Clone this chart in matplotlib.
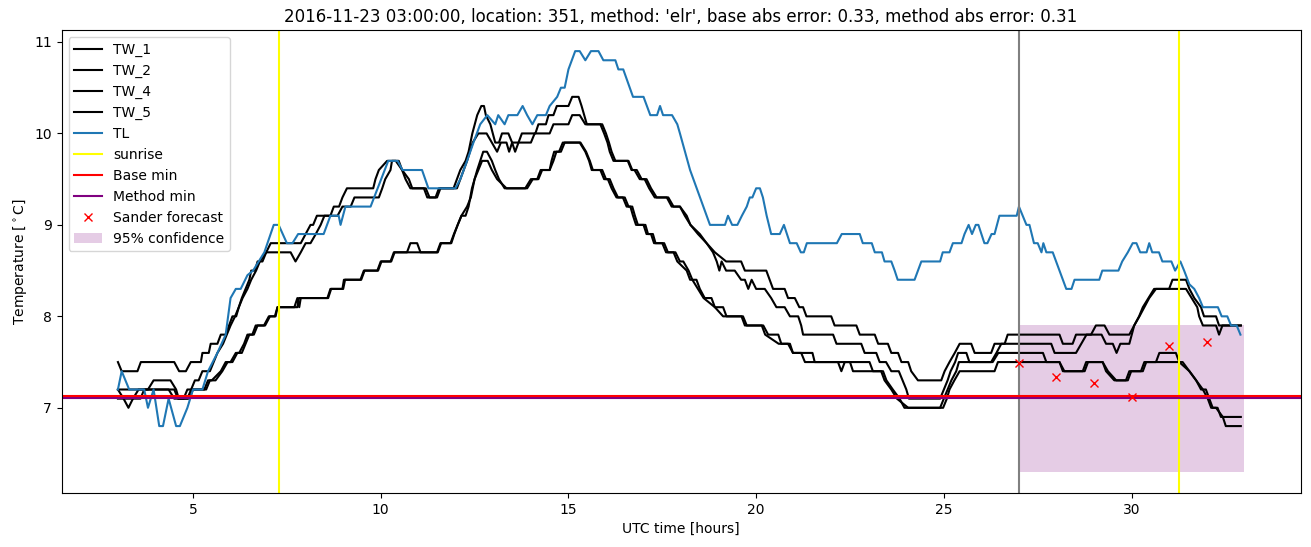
#!/usr/bin/env python

import matplotlib
matplotlib.use("Agg")
import matplotlib.pyplot as plt

title = ("2016-11-23 03:00:00, location: 351, method: 'elr', "
         "base abs error: 0.33, method abs error: 0.31")

# breakpoints (hours, degC)
tw1_t = [3.0, 3.1, 3.52, 3.61, 4.5, 4.63, 4.81, 4.94, 5.21, 5.25, 5.42, 5.47, 5.65, 5.74,
         5.87, 5.96, 6.05, 6.15, 6.22, 6.3, 6.4, 6.5, 6.55, 6.65, 6.72, 6.85, 6.95, 7.07,
         7.87, 8.0, 8.13, 8.2, 8.3, 8.66, 8.75, 8.89, 8.98, 9.1, 9.8, 9.86, 9.95, 10.17,
         10.4, 10.57, 10.75, 10.84, 11.15, 11.24, 11.46, 11.55, 11.94, 12.03, 12.12, 12.26,
         12.34, 12.44, 12.57, 12.68, 12.75, 12.8, 12.92, 13.05, 13.15, 13.23, 13.4, 13.5,
         13.58, 13.67, 13.76, 14.12, 14.2, 14.4, 14.47, 14.6, 14.69, 15.0, 15.1, 15.27,
         15.35, 15.42, 15.49, 15.85, 15.95, 16.04, 16.1, 16.2, 16.58, 16.68, 16.76, 16.9,
         17.03, 17.15, 17.3, 17.62, 17.75, 17.97, 18.15, 18.25, 18.45, 18.68, 18.9, 19.2,
         19.6, 19.7, 20.27, 20.36, 20.45, 20.76, 20.85, 21.03, 21.15, 21.25, 21.34, 22.0,
         22.09, 22.67, 22.76, 23.16, 23.25, 23.51, 23.6, 23.78, 23.87, 24.05, 24.13, 24.31,
         24.93, 25.02, 25.15, 25.29, 25.42, 25.73, 25.82, 26.26, 26.35, 26.62, 26.7, 28.08,
         28.17, 28.43, 28.52, 28.92, 29.05, 29.28, 29.41, 29.94, 30.07, 30.21, 30.34,
         30.47, 30.65, 31.0, 31.09, 31.45, 31.54, 31.67, 31.85, 31.93, 32.25, 32.33, 32.91]
tw1_v = [7.5, 7.4, 7.4, 7.5, 7.5, 7.4, 7.4, 7.5, 7.5, 7.6, 7.6, 7.7, 7.7, 7.8,
         7.8, 7.9, 8.0, 8.0, 8.1, 8.2, 8.3, 8.4, 8.5, 8.5, 8.6, 8.6, 8.7, 8.8,
         8.8, 8.9, 9.0, 9.0, 9.1, 9.1, 9.2, 9.2, 9.3, 9.4, 9.4, 9.5, 9.6, 9.7,
         9.7, 9.6, 9.5, 9.4, 9.4, 9.3, 9.3, 9.4, 9.4, 9.5, 9.6, 9.7,
         9.8, 10.0, 10.2, 10.3, 10.3, 10.2, 10.1, 9.9, 9.9, 10.0, 10.0, 9.9,
         9.8, 9.9, 10.0, 10.0, 10.1, 10.1, 10.2, 10.2, 10.3, 10.3, 10.4, 10.4,
         10.3, 10.2, 10.1, 10.1, 10.0, 9.9, 9.8, 9.7, 9.7, 9.6, 9.6, 9.5,
         9.5, 9.4, 9.3, 9.3, 9.2, 9.2, 9.1, 9.0, 8.9, 8.8, 8.7, 8.6,
         8.6, 8.5, 8.5, 8.4, 8.3, 8.3, 8.2, 8.2, 8.1, 8.1, 8.0, 8.0,
         7.9, 7.9, 7.8, 7.8, 7.7, 7.7, 7.6, 7.6, 7.5, 7.5, 7.4, 7.3,
         7.3, 7.4, 7.5, 7.6, 7.7, 7.7, 7.6, 7.6, 7.7, 7.7, 7.8, 7.8,
         7.7, 7.7, 7.8, 7.8, 7.9, 7.9, 7.8, 7.8, 7.9, 8.0, 8.1,
         8.2, 8.3, 8.3, 8.4, 8.4, 8.3, 8.2, 8.1, 8.0, 8.0, 7.9, 7.9]

tw2_t = [3.0, 3.8, 3.95, 4.4, 4.55, 4.62, 4.85, 4.95, 5.05, 5.15, 5.25, 5.45, 5.55, 5.65,
         5.8, 5.9, 6.0, 6.12, 6.22, 6.32, 6.45, 6.55, 6.68, 6.78, 6.95, 7.6, 7.73, 7.87,
         8.0, 8.13, 8.27, 8.4, 8.5, 8.85, 8.98, 9.2, 9.3, 9.95, 10.04, 10.12, 10.26, 10.3,
         10.48, 10.57, 10.66, 10.79, 11.2, 11.3, 11.5, 11.59, 12.03, 12.12, 12.3, 12.45,
         12.6, 12.82, 12.96, 13.1, 13.2, 13.35, 13.42, 13.5, 14.0, 14.1, 14.5, 14.6, 15.0,
         15.1, 15.3, 15.45, 15.9, 16.0, 16.08, 16.15, 16.25, 16.6, 16.7, 16.82, 16.95,
         17.08, 17.2, 17.35, 17.66, 17.8, 17.97, 18.1, 18.25, 18.5, 18.68, 18.85, 18.95,
         19.02, 19.08, 19.2, 19.43, 19.6, 19.7, 19.79, 19.88, 20.0, 20.23, 20.4, 20.54,
         20.76, 20.9, 21.12, 21.2, 21.25, 22.05, 22.14, 22.8, 22.89, 23.2, 23.29, 23.46,
         23.6, 23.8, 23.9, 24.0, 24.07, 24.9, 25.0, 25.1, 25.18, 25.3, 25.38, 25.6, 25.68,
         26.26, 26.4, 26.53, 27.86, 27.95, 28.52, 28.66, 28.8, 29.2, 29.32, 29.5, 29.6,
         29.7, 29.94, 30.07, 30.2, 30.3, 30.45, 30.6, 31.45, 31.6, 31.75, 31.8, 31.9,
         32.25, 32.33, 32.42, 32.91]
tw2_v = [7.2, 7.2, 7.3, 7.3, 7.2, 7.1, 7.1, 7.2, 7.3, 7.3, 7.4, 7.4, 7.5, 7.6,
         7.7, 7.8, 7.9, 8.0, 8.1, 8.2, 8.3, 8.4, 8.5, 8.6, 8.7, 8.7, 8.6, 8.7,
         8.8, 8.8, 8.9, 9.0, 9.1, 9.1, 9.2, 9.2, 9.3, 9.3, 9.4, 9.5, 9.6, 9.7,
         9.7, 9.6, 9.5, 9.4, 9.4, 9.3, 9.3, 9.4, 9.4, 9.5, 9.7, 9.9,
         10.0, 10.0, 9.9, 9.8, 9.9, 9.9, 9.8, 9.9, 9.9, 10.0, 10.0, 10.1, 10.1,
         10.2, 10.2, 10.1, 10.1, 10.0, 9.9, 9.8, 9.7, 9.7, 9.6, 9.6, 9.5,
         9.5, 9.4, 9.3, 9.3, 9.2, 9.2, 9.1, 9.0, 8.9, 8.8, 8.7, 8.6,
         8.5, 8.6, 8.5, 8.5, 8.4, 8.4, 8.3, 8.4, 8.3, 8.3, 8.2, 8.1,
         8.1, 8.0, 8.0, 7.9, 7.8, 7.8, 7.7, 7.7, 7.6, 7.6, 7.5, 7.5,
         7.4, 7.4, 7.3, 7.2, 7.1, 7.1, 7.2, 7.3, 7.4, 7.5, 7.6, 7.6, 7.5,
         7.5, 7.6, 7.7, 7.7, 7.6, 7.6, 7.7, 7.8, 7.8, 7.7, 7.7, 7.6,
         7.7, 7.7, 7.9, 8.0, 8.1, 8.2, 8.3, 8.3, 8.2, 8.1, 8.0, 7.9,
         7.9, 7.8, 7.9, 7.9]

tw4_t = [3.0, 3.15, 3.28, 3.4, 3.55, 4.35, 4.5, 4.75, 4.85, 5.3, 5.4, 5.5, 5.74, 5.87,
         6.0, 6.14, 6.23, 6.36, 6.45, 6.58, 6.67, 6.89, 7.02, 7.2, 7.25, 7.78, 7.82, 8.58,
         8.66, 8.98, 9.02, 9.46, 9.55, 9.91, 10.0, 10.26, 10.35, 10.7, 10.79, 10.97, 11.06,
         11.5, 11.59, 11.86, 11.95, 12.05, 12.15, 12.26, 12.34, 12.43, 12.57, 12.65, 12.73,
         12.83, 12.96, 13.05, 13.15, 13.3, 13.85, 14.0, 14.17, 14.26, 14.5, 14.55, 14.62,
         14.75, 14.85, 15.3, 15.45, 15.55, 15.62, 15.85, 15.95, 16.05, 16.15, 16.28, 16.45,
         16.55, 16.65, 16.72, 16.8, 17.0, 17.08, 17.2, 17.28, 17.5, 17.6, 17.8, 17.9, 18.15,
         18.24, 18.41, 18.5, 18.63, 18.81, 18.9, 19.12, 19.21, 19.61, 19.7, 20.19, 20.32,
         20.59, 20.67, 20.9, 20.98, 21.2, 21.3, 22.18, 22.27, 22.36, 23.02, 23.11, 23.38,
         23.47, 23.64, 23.82, 23.95, 24.9, 25.0, 25.1, 25.2, 25.33, 25.4, 26.3, 26.45,
         27.64, 27.73, 28.08, 28.17, 28.75, 28.84, 29.23, 29.32, 29.54, 29.85, 29.94,
         30.25, 30.34, 30.65, 30.74, 31.18, 31.27, 31.36, 31.54, 31.72, 31.85, 31.98,
         32.07, 32.16, 32.29, 32.38, 32.91]
tw4_v = [7.2, 7.1, 7.0, 7.1, 7.2, 7.2, 7.1, 7.1, 7.2, 7.2, 7.3, 7.3, 7.4, 7.5,
         7.5, 7.6, 7.6, 7.7, 7.8, 7.8, 7.9, 7.9, 8.0, 8.0, 8.1, 8.1, 8.2, 8.2,
         8.3, 8.3, 8.4, 8.4, 8.5, 8.5, 8.6, 8.6, 8.7, 8.7, 8.8, 8.8, 8.7,
         8.7, 8.8, 8.8, 8.9, 9.0, 9.1, 9.1, 9.2, 9.4, 9.6, 9.7, 9.8,
         9.8, 9.7, 9.6, 9.5, 9.4, 9.4, 9.5, 9.5, 9.6, 9.6, 9.7, 9.8,
         9.8, 9.9, 9.9, 9.8, 9.7, 9.6, 9.6, 9.5, 9.5, 9.4, 9.3, 9.3,
         9.2, 9.2, 9.1, 9.0, 9.0, 8.9, 8.9, 8.8, 8.8, 8.7, 8.7, 8.6, 8.5,
         8.4, 8.4, 8.3, 8.2, 8.2, 8.1, 8.1, 8.0, 8.0, 7.9, 7.9, 7.8,
         7.8, 7.7, 7.7, 7.6, 7.6, 7.5, 7.5, 7.4, 7.5, 7.5, 7.4, 7.4,
         7.3, 7.2, 7.1, 7.0, 7.0, 7.1, 7.2, 7.3, 7.4, 7.5, 7.5, 7.6,
         7.6, 7.5, 7.5, 7.4, 7.4, 7.5, 7.5, 7.4, 7.3, 7.3, 7.4,
         7.4, 7.5, 7.5, 7.6, 7.6, 7.5, 7.5, 7.4, 7.3, 7.2, 7.2,
         7.1, 7.0, 7.0, 6.9, 6.9]

tw5_t = [3.0, 3.6, 3.7, 4.5, 4.6, 4.9, 5.0, 5.35, 5.45, 5.6, 5.78, 5.92, 6.05, 6.18,
         6.3, 6.4, 6.5, 6.62, 6.72, 6.92, 7.05, 7.18, 7.25, 7.7, 7.78, 7.83, 7.87, 8.6,
         8.68, 9.0, 9.05, 9.48, 9.57, 9.93, 10.02, 10.28, 10.37, 11.52, 11.61, 11.88, 11.96,
         12.05, 12.15, 12.3, 12.4, 12.5, 12.6, 12.7, 12.85, 12.96, 13.1, 13.35, 13.9,
         14.05, 14.2, 14.3, 14.5, 14.6, 14.68, 14.8, 14.9, 15.32, 15.47, 15.57, 15.65,
         15.9, 16.0, 16.1, 16.2, 16.32, 16.5, 16.6, 16.7, 16.77, 16.85, 17.05, 17.12,
         17.25, 17.32, 17.55, 17.65, 17.85, 17.97, 18.06, 18.2, 18.3, 18.45, 18.6, 18.9,
         19.12, 19.65, 19.75, 20.15, 20.24, 20.6, 20.85, 20.98, 21.5, 21.56, 22.5, 22.58,
         23.33, 23.42, 23.6, 23.75, 24.05, 24.98, 25.08, 25.15, 25.28, 25.42, 26.35,
         26.44, 28.08, 28.21, 28.7, 28.79, 29.23, 29.37, 29.59, 29.9, 29.99, 30.3, 30.39,
         31.27, 31.54, 31.72, 31.9, 32.03, 32.12, 32.25, 32.43, 32.51, 32.91]
tw5_v = [7.1, 7.1, 7.2, 7.2, 7.1, 7.1, 7.2, 7.2, 7.3, 7.3, 7.4, 7.5, 7.5, 7.6,
         7.6, 7.7, 7.8, 7.8, 7.9, 7.9, 8.0, 8.0, 8.1, 8.1, 8.2, 8.1, 8.2, 8.2,
         8.3, 8.3, 8.4, 8.4, 8.5, 8.5, 8.6, 8.6, 8.7, 8.7, 8.8, 8.8, 8.9,
         9.0, 9.1, 9.2, 9.3, 9.5, 9.6, 9.7, 9.7, 9.6, 9.5, 9.4, 9.4,
         9.5, 9.5, 9.6, 9.6, 9.7, 9.8, 9.8, 9.9, 9.9, 9.8, 9.7, 9.6,
         9.6, 9.5, 9.5, 9.4, 9.3, 9.3, 9.2, 9.2, 9.1, 9.0, 9.0, 8.9,
         8.9, 8.8, 8.8, 8.7, 8.7, 8.6, 8.6, 8.5, 8.4, 8.3, 8.2, 8.1,
         8.0, 8.0, 7.9, 7.9, 7.8, 7.7, 7.7, 7.6, 7.6, 7.5, 7.5, 7.4,
         7.4, 7.3, 7.2, 7.1, 7.0, 7.0, 7.1, 7.2, 7.3, 7.4, 7.4,
         7.5, 7.5, 7.4, 7.4, 7.5, 7.5, 7.4, 7.3, 7.3, 7.4, 7.4, 7.5,
         7.5, 7.4, 7.3, 7.2, 7.1, 7.0, 7.0, 6.9, 6.8, 6.8]

tl_t = [3.0, 3.1, 3.3, 3.7, 3.8, 3.95, 4.1, 4.2, 4.35, 4.55, 4.65, 4.85, 5.0, 5.25, 5.4,
        5.65, 5.87, 6.0, 6.14, 6.27, 6.45, 6.6, 6.75, 6.9, 7.15, 7.28, 7.5, 7.65, 7.8, 8.48,
        8.66, 8.88, 8.93, 9.06, 9.73, 10.2, 10.45, 10.58, 11.1, 11.27, 11.99, 12.12, 12.3,
        12.47, 12.65, 12.84, 13.05, 13.13, 13.3, 13.4, 13.64, 13.78, 13.9, 14.04, 14.17,
        14.4, 14.5, 14.7, 14.8, 14.9, 15.0, 15.18, 15.3, 15.45, 15.6, 15.8, 15.93, 16.25,
        16.33, 16.46, 16.72, 17.0, 17.18, 17.36, 17.44, 17.52, 17.76, 17.9, 17.97, 18.24,
        18.77, 19.17, 19.25, 19.36, 19.5, 19.62, 19.75, 19.83, 19.9, 20.0, 20.1, 20.18,
        20.28, 20.4, 20.63, 20.74, 20.9, 21.08, 21.19, 21.27, 21.35, 22.15, 22.28, 22.76,
        22.84, 23.08, 23.16, 23.35, 23.42, 23.6, 23.69, 23.77, 24.22, 24.4, 24.9, 24.97,
        25.15, 25.24, 25.47, 25.55, 25.66, 25.75, 25.85, 25.92, 26.08, 26.16, 26.27, 26.35,
        26.48, 26.94, 27.0, 27.1, 27.2, 27.28, 27.4, 27.5, 27.6, 27.65, 27.73, 27.9, 28.26,
        28.4, 28.48, 29.14, 29.22, 29.65, 29.75, 29.9, 30.03, 30.13, 30.23, 30.4, 30.47,
        30.55, 30.73, 30.82, 31.06, 31.16, 31.3, 31.4, 31.54, 31.67, 31.8, 31.9, 32.3,
        32.4, 32.55, 32.65, 32.8, 32.9]
tl_v = [7.2, 7.4, 7.2, 7.2, 7.0, 7.2, 6.8, 6.8, 7.1, 6.8, 6.8, 7.0, 7.2, 7.2, 7.4,
        7.6, 7.8, 8.2, 8.3, 8.3, 8.45, 8.5, 8.6, 8.7, 9.0, 9.0, 8.8, 8.8, 8.9, 8.9,
        9.1, 9.1, 9.0, 9.2, 9.2, 9.7, 9.7, 9.6, 9.6, 9.4, 9.4, 9.5, 9.7,
        9.9, 10.1, 10.2, 10.1, 10.2, 10.1, 10.2, 10.2, 10.3, 10.2, 10.1, 10.2,
        10.2, 10.3, 10.4, 10.5, 10.5, 10.7, 10.9, 10.9, 10.8, 10.9, 10.9, 10.8, 10.8,
        10.7, 10.7, 10.4, 10.4, 10.2, 10.2, 10.3, 10.2, 10.2, 10.1, 10.0, 9.6,
        9.0, 9.0, 9.1, 9.0, 9.0, 9.1, 9.2, 9.3, 9.3, 9.4, 9.4, 9.3,
        9.1, 8.9, 8.9, 9.0, 8.8, 8.8, 8.7, 8.7, 8.8, 8.8, 8.9, 8.9,
        8.8, 8.8, 8.7, 8.7, 8.6, 8.6, 8.5, 8.4, 8.4, 8.6, 8.6, 8.7,
        8.7, 8.8, 8.8, 8.9, 9.0, 8.9, 9.0, 9.0, 8.8, 8.8, 8.9, 8.9,
        9.1, 9.1, 9.2, 9.1, 9.0, 9.0, 8.8, 8.8, 8.7, 8.8, 8.7, 8.7, 8.3,
        8.3, 8.4, 8.4, 8.5, 8.5, 8.6, 8.7, 8.8, 8.8, 8.7, 8.7, 8.8,
        8.7, 8.7, 8.6, 8.6, 8.5, 8.6, 8.5, 8.35, 8.3, 8.2, 8.1, 8.1,
        8.0, 8.0, 7.9, 7.9, 7.8]

sunrise = [7.28, 31.27]
forecast_start = 27.0
base_min = 7.125
method_min = 7.11
sander_t = [27, 28, 29, 30, 31, 32]
sander_v = [7.49, 7.34, 7.27, 7.12, 7.68, 7.72]
conf_t = [27, 33]
conf_lo = 6.3
conf_hi = 7.9


def plot():
    fig, ax = plt.subplots(figsize=(13.11, 5.47), dpi=100)
    fig.subplots_adjust(left=0.047, right=0.992, top=0.945, bottom=0.099)

    ax.plot(tw1_t, tw1_v, 'k', label='TW_1')
    ax.plot(tw2_t, tw2_v, 'k', label='TW_2')
    ax.plot(tw4_t, tw4_v, 'k', label='TW_4')
    ax.plot(tw5_t, tw5_v, 'k', label='TW_5')
    ax.plot(tl_t, tl_v, color='C0', label='TL')
    for i, s in enumerate(sunrise):
        ax.axvline(s, color='yellow', label='sunrise' if i == 0 else None)
    ax.axvline(forecast_start, color='grey')
    ax.axhline(base_min, color='red', zorder=2.1, label='Base min')
    ax.axhline(method_min, color='purple', zorder=2.05, label='Method min')
    ax.plot(sander_t, sander_v, 'rx', zorder=2.2, label='Sander forecast')
    ax.fill_between(conf_t, conf_lo, conf_hi, color='purple', alpha=0.2,
                    lw=0, label='95% confidence')

    ax.set(xlabel='UTC time [hours]', ylabel=r'Temperature [$^\circ$C]', title=title)
    ax.legend(loc='upper left')

    fig.savefig("out.png")


if __name__ == '__main__':
    plot()
